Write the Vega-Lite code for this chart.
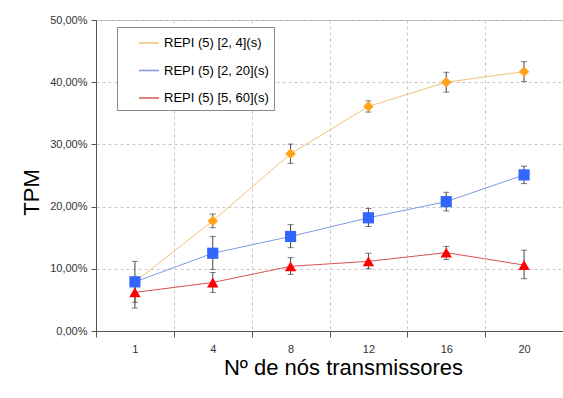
{
  "$schema": "https://vega.github.io/schema/vega-lite/v6.json",
  "width": 467,
  "height": 311,
  "autosize": "none",
  "padding": {"left": 96, "top": 20, "right": 0, "bottom": 67},
  "background": "white",
  "config": {
    "font": "Liberation Sans",
    "view": {"stroke": "#b0b0b0", "strokeWidth": 1}
  },
  "data": {
    "values": [
      {"n": 1, "series": "REPI (5) [2, 4](s)", "value": 0.079, "lo": 0.075, "hi": 0.083},
      {"n": 4, "series": "REPI (5) [2, 4](s)", "value": 0.177, "lo": 0.166, "hi": 0.188},
      {"n": 8, "series": "REPI (5) [2, 4](s)", "value": 0.285, "lo": 0.2695, "hi": 0.3005},
      {"n": 12, "series": "REPI (5) [2, 4](s)", "value": 0.361, "lo": 0.352, "hi": 0.37},
      {"n": 16, "series": "REPI (5) [2, 4](s)", "value": 0.4, "lo": 0.384, "hi": 0.416},
      {"n": 20, "series": "REPI (5) [2, 4](s)", "value": 0.417, "lo": 0.401, "hi": 0.433},
      {"n": 1, "series": "REPI (5) [2, 20](s)", "value": 0.079, "lo": 0.046, "hi": 0.112},
      {"n": 4, "series": "REPI (5) [2, 20](s)", "value": 0.125, "lo": 0.099, "hi": 0.152},
      {"n": 8, "series": "REPI (5) [2, 20](s)", "value": 0.152, "lo": 0.134, "hi": 0.171},
      {"n": 12, "series": "REPI (5) [2, 20](s)", "value": 0.182, "lo": 0.168, "hi": 0.197},
      {"n": 16, "series": "REPI (5) [2, 20](s)", "value": 0.208, "lo": 0.193, "hi": 0.223},
      {"n": 20, "series": "REPI (5) [2, 20](s)", "value": 0.251, "lo": 0.237, "hi": 0.265},
      {"n": 1, "series": "REPI (5) [5, 60](s)", "value": 0.062, "lo": 0.037, "hi": 0.087},
      {"n": 4, "series": "REPI (5) [5, 60](s)", "value": 0.078, "lo": 0.062, "hi": 0.094},
      {"n": 8, "series": "REPI (5) [5, 60](s)", "value": 0.104, "lo": 0.091, "hi": 0.118},
      {"n": 12, "series": "REPI (5) [5, 60](s)", "value": 0.112, "lo": 0.1, "hi": 0.125},
      {"n": 16, "series": "REPI (5) [5, 60](s)", "value": 0.126, "lo": 0.115, "hi": 0.136},
      {"n": 20, "series": "REPI (5) [5, 60](s)", "value": 0.106, "lo": 0.084, "hi": 0.13}
    ]
  },
  "encoding": {
    "x": {
      "field": "n",
      "type": "ordinal",
      "scale": {"type": "band", "paddingInner": 0, "paddingOuter": 0, "domain": [1, 4, 8, 12, 16, 20]},
      "axis": {
        "title": "Nº de nós transmissores",
        "titleFontSize": 22,
        "titleFontWeight": "normal",
        "titleColor": "black",
        "titlePadding": 3,
        "titleX": 247,
        "titleAlign": "center",
        "labelAngle": 0,
        "tickBand": "extent",
        "grid": true,
        "gridDash": [3, 3],
        "gridColor": "#c8c8c8",
        "domainColor": "#555555",
        "tickColor": "#555555",
        "tickSize": 6,
        "labelPadding": 6,
        "labelFontSize": 11,
        "labelColor": "#333333"
      }
    }
  },
  "layer": [
    {
      "mark": {"type": "line", "strokeWidth": 1},
      "encoding": {
        "y": {
          "field": "value",
          "type": "quantitative",
          "scale": {"domain": [0, 0.5], "nice": false},
          "axis": {
            "title": "TPM",
            "titleFontSize": 22,
            "titleFontWeight": "normal",
            "titleColor": "black",
            "titleX": -58,
            "titleY": 172,
            "titleBaseline": "alphabetic",
            "titleAlign": "center",
            "values": [0, 0.05, 0.1, 0.15, 0.2, 0.25, 0.3, 0.35, 0.4, 0.45, 0.5],
            "labelExpr": "round(datum.value*100) % 10 == 0 ? replace(format(datum.value, '.2%'), '.', ',') : ''",
            "tickOpacity": {"condition": {"test": "round(datum.value*100) % 10 == 0", "value": 1}, "value": 0},
            "grid": true,
            "gridDash": [3, 3],
            "gridColor": "#c8c8c8",
            "domainColor": "#555555",
            "tickColor": "#555555",
            "tickSize": 5,
            "labelPadding": 4,
            "labelFontSize": 11,
            "labelColor": "#333333"
          }
        },
        "stroke": {
          "field": "series",
          "type": "nominal",
          "scale": {
            "domain": ["REPI (5) [2, 4](s)", "REPI (5) [2, 20](s)", "REPI (5) [5, 60](s)"],
            "range": ["#F2C274", "#7D9BE3", "#D9534F"]
          },
          "title": null
        }
      }
    },
    {
      "mark": {"type": "rule", "color": "#444444", "strokeWidth": 1},
      "encoding": {
        "y": {"field": "lo", "type": "quantitative"},
        "y2": {"field": "hi"}
      }
    },
    {
      "mark": {"type": "tick", "color": "#444444", "size": 6, "thickness": 1},
      "encoding": {"y": {"field": "lo", "type": "quantitative"}}
    },
    {
      "mark": {"type": "tick", "color": "#444444", "size": 6, "thickness": 1},
      "encoding": {"y": {"field": "hi", "type": "quantitative"}}
    },
    {
      "transform": [{"filter": "datum.series == 'REPI (5) [2, 4](s)'"}],
      "mark": {"type": "point", "filled": true, "opacity": 1, "strokeWidth": 0, "size": 110, "shape": "diamond"},
      "encoding": {
        "y": {"field": "value", "type": "quantitative"},
        "fill": {
          "field": "series",
          "type": "nominal",
          "scale": {
            "domain": ["REPI (5) [2, 4](s)", "REPI (5) [2, 20](s)", "REPI (5) [5, 60](s)"],
            "range": ["#FFA31A", "#3366FF", "#FF0000"]
          },
          "title": null,
          "legend": {
            "title": null,
            "orient": "none",
            "legendX": 21,
            "legendY": 7,
            "padding": 5,
            "rowPadding": 9.5,
            "symbolOffset": 16,
            "labelOffset": 4,
            "strokeColor": "#888888",
            "fillColor": "white",
            "labelFontSize": 13,
            "labelColor": "black",
            "labelFont": "Liberation Sans",
            "symbolSize": 400
          }
        }
      }
    },
    {
      "transform": [{"filter": "datum.series == 'REPI (5) [2, 20](s)'"}],
      "mark": {"type": "point", "filled": true, "opacity": 1, "strokeWidth": 0, "size": 125, "shape": "square"},
      "encoding": {
        "y": {"field": "value", "type": "quantitative"},
        "fill": {"field": "series", "type": "nominal", "title": null}
      }
    },
    {
      "transform": [{"filter": "datum.series == 'REPI (5) [5, 60](s)'"}],
      "mark": {"type": "point", "filled": true, "opacity": 1, "strokeWidth": 0, "size": 130, "shape": "triangle-up"},
      "encoding": {
        "y": {"field": "value", "type": "quantitative"},
        "fill": {"field": "series", "type": "nominal", "title": null}
      }
    }
  ]
}
